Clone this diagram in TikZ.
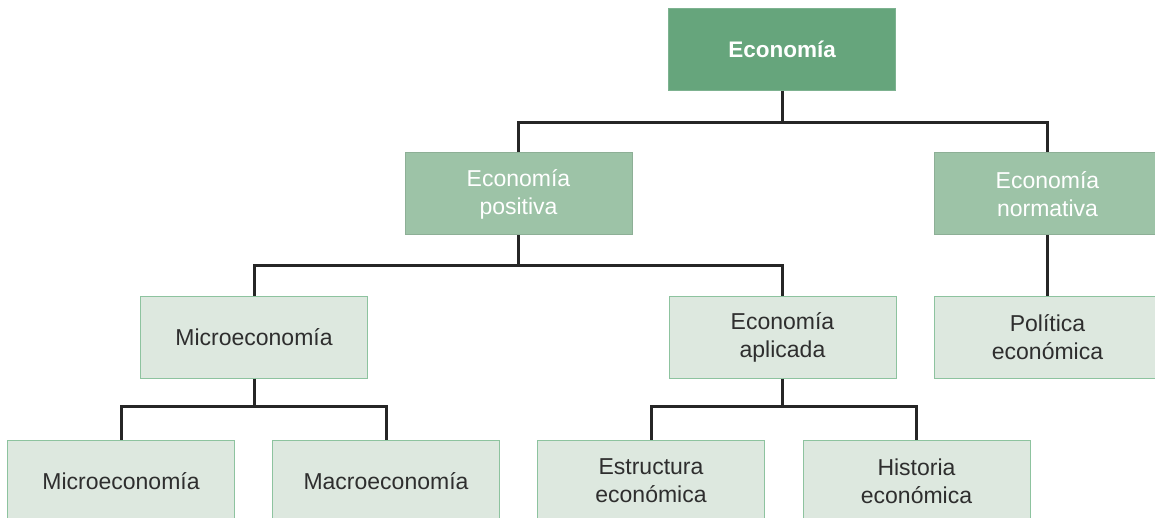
\documentclass[tikz,border=0pt]{standalone}
\usepackage{fontspec}
\setmainfont{Liberation Sans}
\definecolor{dark}{HTML}{66A57C}
\definecolor{mid}{HTML}{9DC3A7}
\definecolor{light}{HTML}{DDE8DF}
\definecolor{lightborder}{HTML}{8DC39F}
\definecolor{txt}{HTML}{2E2E2E}
\definecolor{conn}{HTML}{262626}
\tikzset{
  box/.style={rectangle, minimum width=227pt, minimum height=82pt, inner sep=0pt, align=center,
    font=\fontsize{23}{28}\selectfont},
  topbox/.style={box, fill=dark, draw=dark!85!white, line width=1pt, text=white, font=\fontsize{22.5}{28}\selectfont\bfseries},
  midbox/.style={box, fill=mid, draw=mid!90!black, line width=1pt, text=white},
  lowbox/.style={box, fill=light, draw=lightborder, line width=1pt, text=txt},
  link/.style={draw=conn, line width=3pt}
}
\begin{document}
\begin{tikzpicture}[x=1pt,y=-1pt]
\useasboundingbox (0,0) rectangle (1155,518);
\clip (0,0) rectangle (1155,518);
\coordinate (b1) at (0,123);
\coordinate (b2) at (0,266);
\coordinate (b3) at (0,406);
\node[topbox] (eco) at (782,49.5) {Economía};
\node[midbox] (pos) at (518.5,194) {Economía\\positiva};
\node[midbox] (nor) at (1047.5,194) {Economía\\normativa};
\node[lowbox] (mic) at (254,337) {Microeconomía};
\node[lowbox] (apl) at (782.5,337) {Economía\\aplicada};
\node[lowbox] (pol) at (1047.5,337) {Política\\económica};
\node[lowbox] (c1) at (121,481) {Microeconomía};
\node[lowbox] (c2) at (386,481) {Macroeconomía};
\node[lowbox] (c3) at (651,481) {Estructura\\económica};
\node[lowbox] (c4) at (916.5,481) {Historia\\económica};
\begin{scope}[link]
\draw (eco.south) -- (eco.south |- b1);
\draw (pos.north) -- (pos.north |- b1) -- (nor.north |- b1) -- (nor.north);
\draw (pos.south) -- (pos.south |- b2);
\draw (mic.north) -- (mic.north |- b2) -- (apl.north |- b2) -- (apl.north);
\draw (nor.south) -- (pol.north);
\draw (mic.south) -- (mic.south |- b3);
\draw (c1.north) -- (c1.north |- b3) -- (c2.north |- b3) -- (c2.north);
\draw (apl.south) -- (apl.south |- b3);
\draw (c3.north) -- (c3.north |- b3) -- (c4.north |- b3) -- (c4.north);
\end{scope}
\end{tikzpicture}
\end{document}
